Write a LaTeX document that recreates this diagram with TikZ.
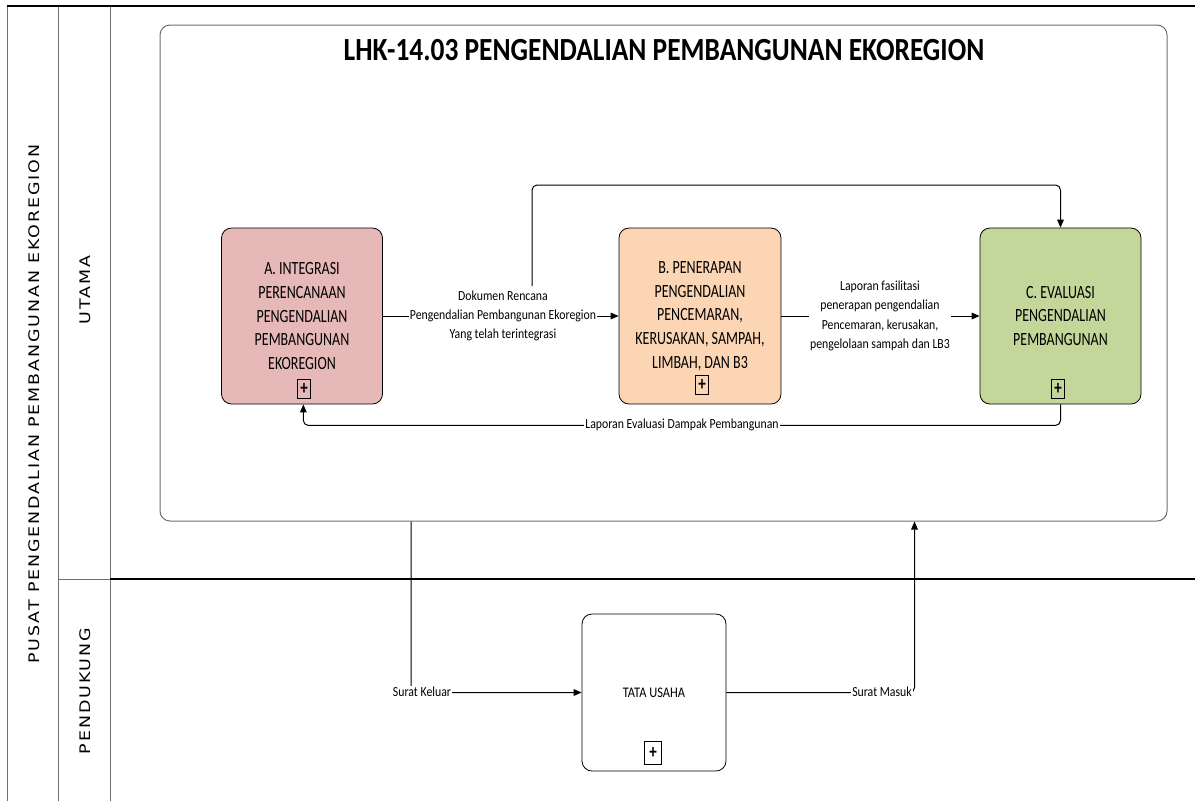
\documentclass[tikz,border=0pt]{standalone}
\usepackage{fontspec}
\setmainfont{Carlito}[FakeStretch=0.85]
\newfontfamily\boxfont{Carlito}[FakeStretch=0.75]
\newfontfamily\lanefont{DejaVu Sans}[FakeStretch=1.2,LetterSpace=13]
\usetikzlibrary{arrows.meta}
\definecolor{fillA}{HTML}{E6B9B8}
\definecolor{fillB}{HTML}{FCD5B5}
\definecolor{fillC}{HTML}{C4D79B}
\definecolor{frame}{HTML}{6E6E6E}
\begin{document}
\begin{tikzpicture}[x=0.75pt,y=-0.75pt,
  task/.style={draw=black, line width=0.6pt, rounded corners=7.5pt, minimum height=132pt,
    align=center, inner sep=0pt, font=\boxfont\fontsize{14}{17.8}\selectfont},
  mk/.style={draw=black, line width=0.6pt, minimum width=10pt, minimum height=14pt, inner sep=0pt,
    font=\boxfont\bfseries\fontsize{15}{15}\selectfont},
  lbl/.style={fill=white, align=center, inner sep=1pt, font=\fontsize{10.4}{14.5}\selectfont},
  flow/.style={draw=black, line width=0.75pt, rounded corners=3.75pt, -{Triangle[length=6pt,width=5pt]}},
  lane/.style={rotate=90, font=\lanefont\fontsize{10.9}{12}\selectfont},
  pool/.style={draw=frame, line width=0.75pt}
]
\useasboundingbox (0,0) rectangle (1195,801);
% pool and lanes
\draw[pool] (7,6) -- (7,801);
\draw[pool] (58,6) -- (58,801);
\draw[pool] (110,6) -- (110,801);
\draw[black, line width=1.6pt] (7,6) -- (1195,6);
\draw[pool] (58,579) -- (110,579);
\draw[black, line width=1.6pt] (110,579) -- (1195,579);
\node[lane] (pool) at (34,404) {PUSAT PENGENDALIAN PEMBANGUNAN EKOREGION};
\node[lane] (utama) at (85,290) {UTAMA};
\node[lane] (pend) at (85,691) {PENDUKUNG};

% sub-process container
\node[draw=frame, line width=0.75pt, rounded corners=7.5pt, minimum width=755.25pt, minimum height=372pt, inner sep=0pt] (sub) at (663.5,273) {};
\node[font=\bfseries\fontsize{24.2}{28}\selectfont] (title) at (664,50) {LHK-14.03 PENGENDALIAN PEMBANGUNAN EKOREGION};

% tasks
\node[task, fill=fillA, minimum width=120.75pt] (A) at (302,316) {A. INTEGRASI\\PERENCANAAN\\PENGENDALIAN\\PEMBANGUNAN\\EKOREGION};
\node[task, fill=fillB, minimum width=121.5pt] (B) at (700,316) {B. PENERAPAN\\PENGENDALIAN\\PENCEMARAN,\\KERUSAKAN, SAMPAH,\\LIMBAH, DAN B3};
\node[task, fill=fillC, minimum width=120.75pt] (C) at (1060.5,316) {C. EVALUASI\\PENGENDALIAN\\PEMBANGUNAN};
\node[mk] (mA) at (304,389) {+};
\node[mk] (mB) at (702,385) {+};
\node[mk] (mC) at (1058,389) {+};

% flows in UTAMA
\draw[flow] (A.east) -- (B.west);
\node[lbl] (lab1) at (503,316) {Dokumen Rencana\\Pengendalian Pembangunan Ekoregion\\Yang telah terintegrasi};
\draw[flow] (B.east) -- (C.west);
\node[lbl] (lab2) at (880,316) {Laporan fasilitasi\\penerapan pengendalian\\Pencemaran, kerusakan,\\pengelolaan sampah dan LB3};
\coordinate (t0) at (532,286);
\draw[flow] (t0) -- (532,185) -| (C.north);
\draw[flow] (C.south) -- ++(0,21) -| ([xshift=1pt]A.south);
\node[lbl] (lab3) at (682,425) {Laporan Evaluasi Dampak Pembangunan};

% PENDUKUNG
\node[draw=black, line width=0.6pt, rounded corners=7.5pt, minimum width=108pt, minimum height=117.75pt, inner sep=0pt,
  font=\fontsize{11}{13}\selectfont] (T) at (654,692.5) {TATA USAHA};
\node[mk, minimum width=12.5pt, minimum height=17pt] (mT) at (653,753) {+};
\path (sub.south) ++(-252.5,0) coordinate (k0);
\path (sub.south) ++(251,0) coordinate (k1);
\draw[flow] (k0) |- (T.west);
\node[lbl] (lab4) at (422,692) {Surat Keluar};
\draw[flow] (T.east) -| (k1);
\node[lbl] (lab5) at (882,692) {Surat Masuk};
\end{tikzpicture}
\end{document}
